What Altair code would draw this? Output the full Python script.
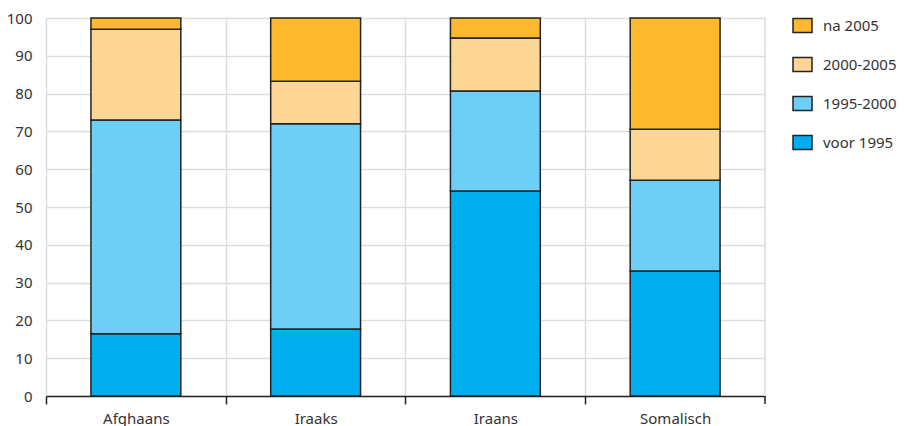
import altair as alt
import pandas as pd

groepen = ["Afghaans", "Iraaks", "Iraans", "Somalisch"]
perioden = ["voor 1995", "1995-2000", "2000-2005", "na 2005"]
voor_1995 = [16.5, 17.7, 54.2, 33.1]
p1995_2000 = [56.5, 54.3, 26.5, 24.0]
p2000_2005 = [24.0, 11.3, 14.0, 13.5]
na_2005 = [3.0, 16.7, 5.3, 29.4]
kleuren = ["#00AEEF", "#6DCFF6", "#FDD696", "#FDB92E"]
y_ticks = list(range(0, 101, 10))

series = [voor_1995, p1995_2000, p2000_2005, na_2005]
rows = []
for pi, (per, vals) in enumerate(zip(perioden, series)):
    for g, v in zip(groepen, vals):
        rows.append({"groep": g, "periode": per, "waarde": v, "volgorde": pi})
df = pd.DataFrame(rows)

FONT = "Noto Sans"
W, H = 719, 378

bars = alt.Chart(df).mark_bar(stroke="#222222", strokeWidth=1.5).encode(
    x=alt.X("groep:N", sort=groepen, title=None,
            scale=alt.Scale(paddingInner=0.5, paddingOuter=0.25),
            axis=alt.Axis(bandPosition=0, tickOffset=-45, labelOffset=45, labelAngle=0,
                          labelFontSize=15,
                          labelColor="#333333", labelPadding=7, tickSize=8,
                          tickColor="#222222", tickWidth=1.5, domainColor="#222222",
                          domainWidth=1.5, grid=True, gridColor="#dddddd",
                          gridWidth=1.5, labelFont=FONT, labelBound=False,
                          labelFlush=False)),
    y=alt.Y("waarde:Q", stack="zero", title=None,
            scale=alt.Scale(domain=[0, 100], nice=False),
            axis=alt.Axis(values=y_ticks, ticks=False, domain=False,
                          labelFontSize=15, labelColor="#333333", labelPadding=14,
                          gridColor="#dddddd", gridWidth=1.5, labelFont=FONT)),
    color=alt.Color("periode:N", title=None,
                    scale=alt.Scale(domain=perioden[::-1], range=kleuren[::-1]),
                    legend=alt.Legend(orient="none", legendX=746, legendY=-3,
                                      symbolType="M-1,-0.74L1,-0.74L1,0.74L-1,0.74Z",
                                      symbolSize=361, symbolStrokeColor="#222222",
                                      symbolStrokeWidth=1.5, symbolOpacity=1,
                                      labelFontSize=15, labelColor="#333333",
                                      labelFont=FONT, rowPadding=18, labelOffset=10,
                                      padding=0)),
    order=alt.Order("volgorde:Q", sort="ascending"),
)

# right-hand band boundary: grid line and tick
edge_grid = alt.Chart().mark_rule(color="#dddddd", strokeWidth=1.5).encode(
    x=alt.value(W), y=alt.value(0), y2=alt.value(H))
edge_tick = alt.Chart().mark_rule(color="#222222", strokeWidth=1.5).encode(
    x=alt.value(W), y=alt.value(H), y2=alt.value(H + 8))

chart = alt.layer(edge_grid, bars, edge_tick).properties(
    width=W, height=H,
    autosize=alt.AutoSizeParams(type="none"),
    padding={"left": 38, "top": 10, "right": 133, "bottom": 30},
).configure_view(stroke=None)

chart.save("out.html", embed_options={"renderer": "svg", "actions": False})
